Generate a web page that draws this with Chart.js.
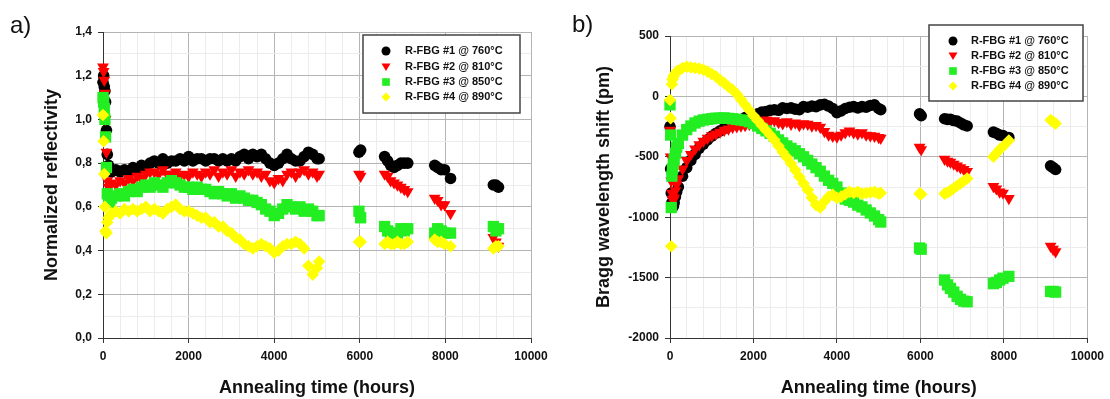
<!DOCTYPE html>
<html>
<head>
<meta charset="utf-8">
<script src="https://cdn.jsdelivr.net/npm/chart.js@4.4.1/dist/chart.umd.min.js"></script>
<style>
  body { margin: 0; background: #fff; width: 1110px; height: 399px; position: relative; overflow: hidden; }
  .panel { position: absolute; top: 0; width: 555px; height: 399px; }
  .tag { position: absolute; font: 24px "Liberation Sans", Arial, sans-serif; line-height: 1; color: #111; }
</style>
</head>
<body>
<div class="panel" style="left:0"><canvas id="chartA" width="555" height="399"></canvas></div>
<div class="panel" style="left:555px"><canvas id="chartB" width="555" height="399"></canvas></div>
<div class="tag" style="left:10px; top:13px">a)</div>
<div class="tag" style="left:572px; top:12px">b)</div>
<script>
// annealing times (hours), shared by every series
const hours = [
  0, 15, 30, 45, 60, 80, 100, 130, 160, 200,
  300, 400, 500, 600, 700, 800, 900, 1000, 1100, 1200,
  1300, 1400, 1500, 1600, 1700, 1800, 1900, 2000, 2100, 2200,
  2300, 2400, 2500, 2600, 2700, 2800, 2900, 3000, 3100, 3200,
  3300, 3400, 3500, 3600, 3700, 3800, 3900, 4000, 4100, 4200,
  4300, 4400, 4500, 4600, 4700, 4800, 4900, 5000, 5050,
  5980, 6020,
  6580, 6650, 6720, 6800, 6880, 6960, 7040, 7120,
  7750, 7820, 7900, 7980, 8120,
  9120, 9180, 9240
];

const seriesNames = ['R-FBG #1 @ 760°C', 'R-FBG #2 @ 810°C', 'R-FBG #3 @ 850°C', 'R-FBG #4 @ 890°C'];

// a) normalized reflectivity
const reflect1 = [
  1.17, 1.20, 1.15, 1.13, 1.08, 0.95, 0.84, 0.79, 0.77, 0.76,
  0.77, 0.76, 0.77, 0.76, 0.78, 0.77, 0.79, 0.78, 0.80, 0.81,
  0.80, 0.82, 0.80, 0.81, 0.81, 0.82, 0.81, 0.83, 0.81, 0.82,
  0.82, 0.81, 0.82, 0.82, 0.81, 0.82, 0.81, 0.82, 0.81, 0.83,
  0.84, 0.82, 0.84, 0.83, 0.84, 0.82, 0.80, 0.79, 0.80, 0.82,
  0.84, 0.82, 0.81, 0.81, 0.83, 0.85, 0.84, 0.82, 0.82,
  0.85, 0.86,
  0.83, 0.81, 0.79, 0.78, 0.79, 0.80, 0.80, 0.80,
  0.79, 0.78, 0.77, 0.77, 0.73,
  0.70, 0.70, 0.69
];
const reflect2 = [
  1.24, 1.22, 1.18, 1.12, 1.00, 0.85, 0.72, 0.69, 0.70, 0.71,
  0.70, 0.72, 0.71, 0.73, 0.72, 0.74, 0.73, 0.75, 0.76, 0.76,
  0.75, 0.77, 0.75, 0.75, 0.76, 0.74, 0.75, 0.74, 0.76, 0.75,
  0.74, 0.76, 0.75, 0.77, 0.74, 0.76, 0.75, 0.77, 0.74, 0.76,
  0.75, 0.77, 0.75, 0.76, 0.74, 0.75, 0.72, 0.71, 0.73, 0.72,
  0.75, 0.76, 0.74, 0.76, 0.77, 0.75, 0.76, 0.74, 0.75,
  0.75, 0.74,
  0.75, 0.74, 0.72, 0.71, 0.70, 0.69, 0.68, 0.67,
  0.64, 0.63, 0.61, 0.61, 0.57,
  0.46, 0.44, 0.42
];
const reflect3 = [
  1.10, 1.08, 1.05, 1.00, 0.92, 0.78, 0.66, 0.62, 0.63, 0.64,
  0.65, 0.66, 0.65, 0.67, 0.68, 0.67, 0.69, 0.70, 0.69, 0.71,
  0.70, 0.69, 0.71, 0.72, 0.71, 0.70, 0.69, 0.69, 0.68, 0.69,
  0.68, 0.68, 0.67, 0.66, 0.67, 0.66, 0.65, 0.66, 0.64, 0.65,
  0.64, 0.63, 0.63, 0.62, 0.61, 0.59, 0.58, 0.56, 0.57, 0.59,
  0.61, 0.60, 0.59, 0.60, 0.58, 0.59, 0.58, 0.56, 0.56,
  0.58, 0.55,
  0.51, 0.49, 0.48, 0.47, 0.48, 0.50, 0.49, 0.50,
  0.48, 0.50, 0.49, 0.48, 0.48,
  0.51, 0.49, 0.50
];
const reflect4 = [
  1.02, 0.90, 0.75, 0.60, 0.49, 0.48, 0.53, 0.55, 0.56, 0.57,
  0.58, 0.57, 0.59, 0.58, 0.59, 0.58, 0.59, 0.60, 0.58, 0.59,
  0.58, 0.57, 0.59, 0.60, 0.61, 0.59, 0.58, 0.58, 0.57, 0.56,
  0.55, 0.55, 0.53, 0.53, 0.51, 0.51, 0.49, 0.48, 0.46, 0.45,
  0.43, 0.42, 0.41, 0.42, 0.43, 0.42, 0.41, 0.39, 0.40, 0.42,
  0.43, 0.43, 0.44, 0.43, 0.41, 0.33, 0.29, 0.32, 0.35,
  0.44, 0.44,
  0.43, 0.44, 0.43, 0.43, 0.44, 0.43, 0.43, 0.44,
  0.45, 0.44, 0.44, 0.43, 0.42,
  0.41, 0.42, 0.42
];

// b) Bragg wavelength shift (pm)
const shift1 = [
  -250, -600, -800, -880, -900, -910, -880, -830, -790, -750,
  -660, -590, -530, -480, -430, -395, -360, -330, -305, -285,
  -265, -245, -230, -215, -195, -175, -170, -160, -145, -130,
  -125, -115, -110, -115, -95, -100, -95, -105, -110, -85,
  -90, -80, -85, -70, -65, -80, -100, -135, -120, -100,
  -90, -85, -95, -85, -90, -75, -70, -100, -110,
  -145, -160,
  -185, -190, -190, -200, -205, -220, -235, -245,
  -295, -305, -320, -325, -340,
  -575, -590, -605
];
const shift2 = [
  -280, -500, -700, -800, -850, -860, -840, -780, -730, -680,
  -600, -530, -480, -435, -400, -370, -345, -325, -310, -295,
  -280, -270, -255, -250, -245, -240, -230, -225, -210, -200,
  -195, -205, -200, -215, -225, -210, -230, -220, -240, -225,
  -230, -245, -240, -255, -290, -320, -330, -335, -320, -300,
  -285, -300, -310, -300, -320, -325, -330, -340, -345,
  -420, -440,
  -520, -535, -545, -560, -575, -590, -605, -620,
  -745, -765, -790, -800, -845,
  -1240, -1265, -1285
];
const shift3 = [
  -70, -320, -920, -660, -600, -560, -520, -470, -420, -390,
  -320, -275, -245, -220, -205, -195, -190, -185, -180, -180,
  -178, -182, -185, -190, -195, -200, -210, -225, -245, -265,
  -285, -305, -330, -360, -385, -410, -430, -450, -475, -500,
  -530, -560, -590, -620, -660, -695, -720, -750, -800, -850,
  -860, -875, -900, -915, -940, -965, -990, -1020, -1040,
  -1255, -1265,
  -1520, -1560, -1590, -1620, -1655, -1680, -1695, -1700,
  -1550, -1540, -1520, -1505, -1490,
  -1615, -1615, -1620
];
const shift4 = [
  -30, -180, -1240, 100, 140, 160, 175, 190, 205, 215,
  235, 245, 240, 235, 230, 220, 205, 185, 165, 135,
  110, 80, 55, 20, -25, -70, -115, -160, -200, -240,
  -280, -320, -360, -410, -460, -505, -555, -610, -665, -720,
  -775, -840, -900, -920, -870, -830, -815, -840, -830, -810,
  -790, -800, -790, -805, -800, -795, -790, -805, -800,
  -805, -810,
  -805, -795, -780, -760, -740, -720, -700, -680,
  -500, -470, -440, -415, -365,
  -195, -210, -225
];

// marker look
const colors = ['#000000', '#ff0000', '#22ee22', '#ffff00'];
const styles = ['circle', 'triangle', 'rect', 'rectRot'];
const radii = [5.8, 6.8, 8, 6.3];
const rotations = [0, 180, 0, 0];

const FONT = '"Liberation Sans", Arial, sans-serif';
Chart.defaults.font.family = FONT;
Chart.defaults.color = '#111';

function toPoints(values) {
  return hours.map((h, i) => ({ x: h, y: values[i] })).filter(p => p.y != null);
}

function makeDatasets(list) {
  return list.map((vals, i) => ({
    label: seriesNames[i],
    data: toPoints(vals),
    showLine: false,
    pointStyle: styles[i],
    pointRadius: radii[i],
    pointHoverRadius: radii[i],
    pointRotation: rotations[i],
    pointBorderWidth: 0,
    backgroundColor: colors[i],
    borderColor: colors[i],
    order: 3 - i,   // last series on top
    clip: false,
  }));
}

// draw the boxed legend
function drawMark(ctx, style, x, y, r) {
  ctx.beginPath();
  if (style === 'circle') {
    ctx.arc(x, y, r, 0, Math.PI * 2);
  } else if (style === 'triangle') {
    ctx.moveTo(x - r, y - r * 0.8);
    ctx.lineTo(x + r, y - r * 0.8);
    ctx.lineTo(x, y + r * 0.9);
    ctx.closePath();
  } else if (style === 'rect') {
    ctx.rect(x - r * 0.85, y - r * 0.85, r * 1.7, r * 1.7);
  } else {
    ctx.moveTo(x, y - r);
    ctx.lineTo(x + r, y);
    ctx.lineTo(x, y + r);
    ctx.lineTo(x - r, y);
    ctx.closePath();
  }
  ctx.fill();
}

const boxLegend = {
  id: 'boxLegend',
  afterDraw(chart, args, opts) {
    const ctx = chart.ctx;
    const [bx, by, bw, bh] = opts.box;
    ctx.save();
    ctx.fillStyle = '#fff';
    ctx.fillRect(bx, by, bw, bh);
    ctx.strokeStyle = '#444';
    ctx.lineWidth = 1.5;
    ctx.strokeRect(bx, by, bw, bh);
    ctx.font = 'bold 11px ' + FONT;
    ctx.textBaseline = 'middle';
    seriesNames.forEach((name, i) => {
      const y = opts.rows[i];
      ctx.fillStyle = colors[i];
      drawMark(ctx, styles[i], opts.markerX, y, 4.5);
      ctx.fillStyle = '#111';
      ctx.fillText(name, opts.textX, y);
    });
    ctx.restore();
  }
};

function makeOptions(cfg) {
  const xMajor = v => Math.round(v) % 2000 === 0;
  return {
    responsive: false,
    animation: false,
    devicePixelRatio: 1,
    layout: { padding: cfg.padding },
    plugins: {
      legend: { display: false },
      tooltip: { enabled: false },
      boxLegend: cfg.legend,
    },
    scales: {
      x: {
        type: 'linear',
        min: 0,
        max: 10000,
        afterFit: s => { s.height = 61; },
        border: { color: '#333', width: 1 },
        grid: {
          color: c => xMajor(c.tick.value) ? '#b4b4b4' : '#ececec',
          tickColor: c => xMajor(c.tick.value) ? '#333' : 'rgba(0,0,0,0)',
          tickLength: 5,
        },
        ticks: {
          stepSize: 400,
          autoSkip: false,
          maxRotation: 0,
          minRotation: 0,
          padding: 6,
          color: '#111',
          font: { size: 12, weight: 'bold' },
          callback: v => xMajor(v) ? String(Math.round(v)) : '',
        },
        title: {
          display: true,
          text: 'Annealing time (hours)',
          color: '#111',
          font: { size: 18, weight: 'bold' },
          padding: { top: 0, bottom: 0 },
        },
      },
      y: {
        type: 'linear',
        min: cfg.yMin,
        max: cfg.yMax,
        afterFit: s => { s.width = cfg.yWidth; },
        border: { color: '#333', width: 1 },
        grid: {
          color: c => cfg.yMajor(c.tick.value) ? '#b4b4b4' : '#ececec',
          tickColor: c => cfg.yMajor(c.tick.value) ? '#333' : 'rgba(0,0,0,0)',
          tickLength: 5,
        },
        ticks: {
          stepSize: cfg.yStep,
          autoSkip: false,
          padding: 6,
          color: '#111',
          font: { size: 12, weight: 'bold' },
          callback: v => cfg.yMajor(v) ? cfg.yFmt(v) : '',
        },
        title: {
          display: true,
          text: cfg.yTitle,
          color: '#111',
          font: { size: 18, weight: 'bold' },
        },
      },
    },
  };
}

new Chart(document.getElementById('chartA'), {
  type: 'scatter',
  data: { datasets: makeDatasets([reflect1, reflect2, reflect3, reflect4]) },
  options: makeOptions({
    padding: { left: 37, right: 24, top: 32, bottom: 0 },
    yWidth: 66,
    yMin: 0, yMax: 1.4, yStep: 0.1,
    yMajor: v => Math.round(v * 10) % 2 === 0,
    yFmt: v => v.toFixed(1).replace('.', ','),
    yTitle: 'Normalized reflectivity',
    legend: { box: [363, 35, 157, 78], markerX: 386, textX: 405, rows: [51, 67, 82, 97] },
  }),
  plugins: [boxLegend],
});

new Chart(document.getElementById('chartB'), {
  type: 'scatter',
  data: { datasets: makeDatasets([shift1, shift2, shift3, shift4]) },
  options: makeOptions({
    padding: { left: 34, right: 19, top: 36, bottom: 0 },
    yWidth: 81,
    yMin: -2000, yMax: 500, yStep: 250,
    yMajor: v => Math.round(v) % 500 === 0,
    yFmt: v => String(Math.round(v)),
    yTitle: 'Bragg wavelength shift (pm)',
    legend: { box: [374, 25, 154, 76], markerX: 398, textX: 416, rows: [41, 56, 71, 86] },
  }),
  plugins: [boxLegend],
});
</script>
</body>
</html>
